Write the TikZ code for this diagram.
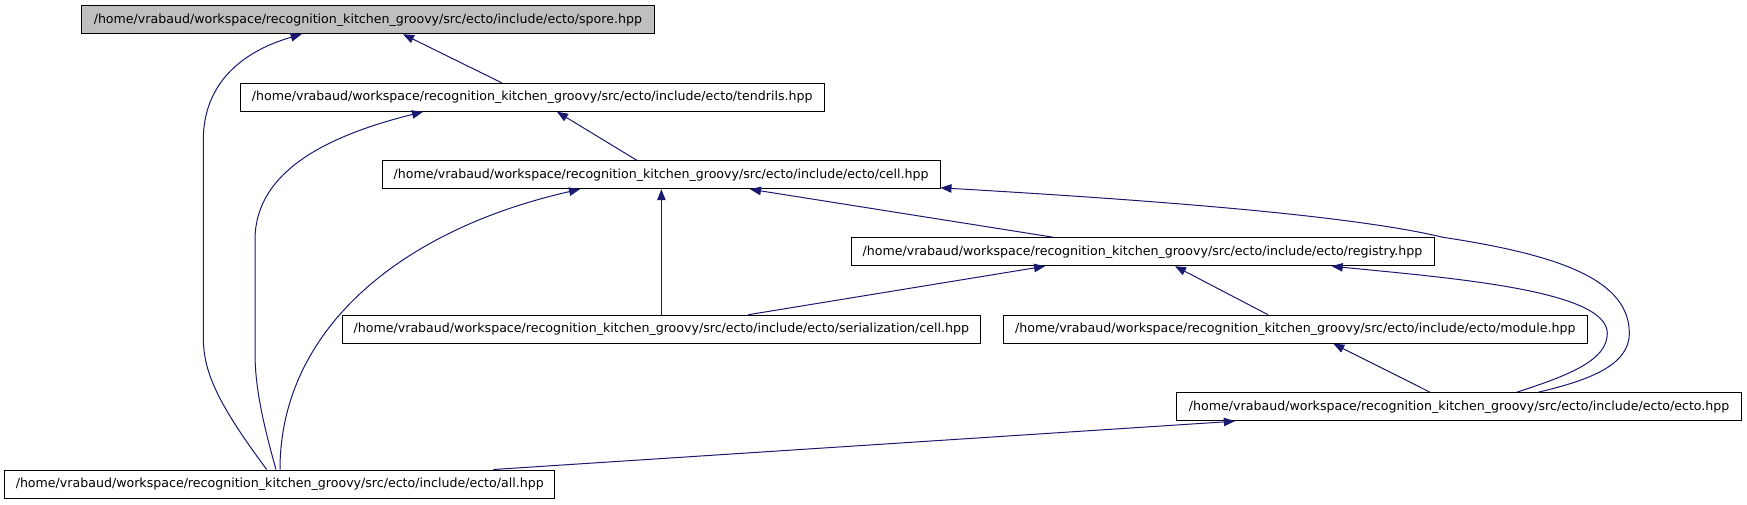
\documentclass[tikz,border=0pt]{standalone}
\usepackage{fontspec}
\setmainfont{DejaVu Sans}
\usetikzlibrary{arrows.meta}
\definecolor{edgeblue}{HTML}{191970}
\definecolor{rootgray}{HTML}{BFBFBF}
\begin{document}
\begin{tikzpicture}[x=1pt,y=-1pt,
  box/.style={draw=black,line width=1pt,rectangle,inner sep=0pt,minimum height=28pt,font=\fontsize{12.6}{14}\selectfont,fill=white},
  edge/.style={draw=edgeblue,line width=1pt,-{Triangle[length=11pt,width=8.5pt]}}]
\useasboundingbox (0,0) rectangle (1747,504);
\node[box,fill=rootgray,minimum width=572.3pt] (spore) at (367.85,19.7) {/home/vrabaud/workspace/recognition\_kitchen\_groovy/src/ecto/include/ecto/spore.hpp};
\node[box,minimum width=583.7pt] (tendrils) at (532.2,97.3) {/home/vrabaud/workspace/recognition\_kitchen\_groovy/src/ecto/include/ecto/tendrils.hpp};
\node[box,minimum width=557.7pt] (cell) at (661.15,174.7) {/home/vrabaud/workspace/recognition\_kitchen\_groovy/src/ecto/include/ecto/cell.hpp};
\node[box,minimum width=583pt] (registry) at (1142.5,251.7) {/home/vrabaud/workspace/recognition\_kitchen\_groovy/src/ecto/include/ecto/registry.hpp};
\node[box,minimum width=637.3pt] (serial) at (661.35,329.2) {/home/vrabaud/workspace/recognition\_kitchen\_groovy/src/ecto/include/ecto/serialization/cell.hpp};
\node[box,minimum width=584pt] (module) at (1295.3,329.2) {/home/vrabaud/workspace/recognition\_kitchen\_groovy/src/ecto/include/ecto/module.hpp};
\node[box,minimum width=564.5pt] (ecto) at (1459.15,406.7) {/home/vrabaud/workspace/recognition\_kitchen\_groovy/src/ecto/include/ecto/ecto.hpp};
\node[box,minimum width=550pt] (all) at (279.75,484) {/home/vrabaud/workspace/recognition\_kitchen\_groovy/src/ecto/include/ecto/all.hpp};
% tendrils -> spore
\draw[edge] ([xshift=-30.5pt]tendrils.north) -- ([xshift=35.15pt]spore.south);
% all -> spore
\draw[edge] ([xshift=-13.05pt]all.north) .. controls (215,400) and (203.3,370) .. (203.3,336.7) -- (203.3,140) .. controls (203.3,85) and (240,52) .. ([xshift=-66.15pt]spore.south);
% all -> tendrils
\draw[edge] ([xshift=-3.75pt]all.north) .. controls (262,420) and (255,385) .. (255,353) -- (255,240) .. controls (255,170) and (330,135) .. ([xshift=-109.2pt]tendrils.south);
% cell -> tendrils
\draw[edge] ([xshift=-24.45pt]cell.north) -- ([xshift=24.8pt]tendrils.south);
% all -> cell
\draw[edge] ([xshift=0.25pt]all.north) .. controls (280,330) and (400,230) .. ([xshift=-81.15pt]cell.south);
% serialization -> cell
\draw[edge] (serial.north) -- (serial.north |- cell.south);
% registry -> cell
\draw[edge] ([xshift=-89.5pt]registry.north) -- ([xshift=88.85pt]cell.south);
% ecto -> cell
\draw[edge] ([xshift=79.15pt]ecto.north) .. controls (1590,380) and (1629.3,365) .. (1629.3,333.3) .. controls (1629.3,280) and (1560,255) .. (1443,237.3) .. controls (1350,215) and (1150,200) .. ([yshift=1.4pt]cell.south east);
% serialization -> registry
\draw[edge] ([xshift=86.95pt]serial.north) -- ([xshift=-97.5pt]registry.south);
% module -> registry
\draw[edge] ([xshift=-27.3pt]module.north) -- ([xshift=32.5pt]registry.south);
% ecto -> registry
\draw[edge] ([xshift=57.55pt]ecto.north) .. controls (1570,375) and (1607.3,360) .. (1607.3,333.3) .. controls (1607.3,290) and (1450,278) .. ([xshift=189.2pt]registry.south);
% ecto -> module
\draw[edge] ([xshift=-29.15pt]ecto.north) -- ([xshift=38pt]module.south);
% ecto -> all
\draw[edge] ([xshift=213.55pt]all.north) -- ([xshift=-224.35pt]ecto.south);
\end{tikzpicture}
\end{document}
